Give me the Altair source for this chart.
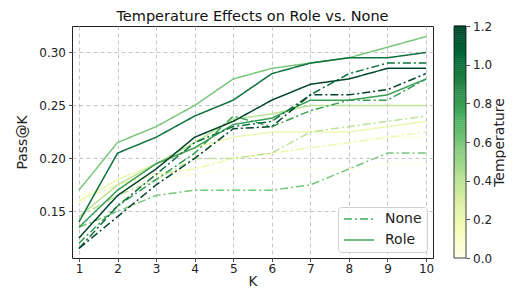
import altair as alt
import pandas as pd

K = list(range(1, 11))
temps = [0.0, 0.2, 0.4, 0.6, 0.8, 1.0, 1.2]

role_t00 = [0.165, 0.175, 0.185, 0.19, 0.20, 0.205, 0.21, 0.215, 0.22, 0.22]
role_t02 = [0.16, 0.18, 0.195, 0.21, 0.22, 0.225, 0.225, 0.225, 0.23, 0.235]
role_t04 = [0.145, 0.175, 0.195, 0.215, 0.237, 0.242, 0.25, 0.25, 0.25, 0.25]
role_t06 = [0.17, 0.215, 0.23, 0.25, 0.275, 0.285, 0.29, 0.295, 0.305, 0.315]
role_t08 = [0.135, 0.17, 0.195, 0.21, 0.232, 0.238, 0.255, 0.255, 0.26, 0.275]
role_t10 = [0.14, 0.205, 0.22, 0.24, 0.255, 0.28, 0.29, 0.295, 0.295, 0.30]
role_t12 = [0.125, 0.165, 0.19, 0.22, 0.235, 0.255, 0.27, 0.275, 0.285, 0.285]

none_t00 = [0.158, 0.17, 0.18, 0.185, 0.19, 0.19, 0.19, 0.19, 0.195, 0.195]
none_t02 = [0.16, 0.175, 0.185, 0.19, 0.20, 0.205, 0.21, 0.215, 0.22, 0.225]
none_t04 = [0.145, 0.165, 0.18, 0.20, 0.20, 0.205, 0.225, 0.23, 0.235, 0.24]
none_t06 = [0.135, 0.15, 0.165, 0.17, 0.17, 0.17, 0.175, 0.19, 0.205, 0.205]
none_t08 = [0.12, 0.155, 0.18, 0.205, 0.24, 0.23, 0.245, 0.255, 0.255, 0.275]
none_t10 = [0.115, 0.155, 0.185, 0.215, 0.23, 0.235, 0.26, 0.28, 0.29, 0.29]
none_t12 = [0.115, 0.145, 0.175, 0.20, 0.228, 0.23, 0.26, 0.26, 0.265, 0.28]

role_series = [role_t00, role_t02, role_t04, role_t06, role_t08, role_t10, role_t12]
none_series = [none_t00, none_t02, none_t04, none_t06, none_t08, none_t10, none_t12]

# YlGn colormap stops (matplotlib), spread evenly over 0 .. 1.2
ylgn = ["#ffffe5", "#f7fcb9", "#d9f0a3", "#addd8e", "#78c679",
        "#41ab5d", "#238443", "#006837", "#004529"]
ylgn_domain = [round(i * 1.2 / 8, 4) for i in range(9)]

rows = []
for i, t in enumerate(temps):
    for prompt, series in (("None", none_series[i]), ("Role", role_series[i])):
        for k, v in zip(K, series):
            rows.append({"K": k, "Pass": v, "Temperature": t, "Prompt": prompt,
                         "series": f"{prompt}_{t}", "ord": i * 2 + (prompt == "Role")})
df = pd.DataFrame(rows)

# colorbar bands (the gradient of the colour scale, 0 .. 1.2)
steps = 120
cb = pd.DataFrame({
    "Temperature": [(j + 0.5) * 1.2 / steps for j in range(steps)],
    "lo": [j * 1.2 / steps for j in range(steps)],
    "hi": [(j + 1) * 1.2 / steps + 0.002 for j in range(steps)],
})
cb_frame = pd.DataFrame({"lo": [0.0], "hi": [1.2]})

FONT = "DejaVu Sans"
color_scale = alt.Scale(domain=ylgn_domain, range=ylgn, interpolate="rgb")

lines = alt.Chart(df).mark_line(strokeWidth=1.5, clip=True).encode(
    x=alt.X("K:Q", scale=alt.Scale(domain=[0.82, 10.18], nice=False, zero=False),
            axis=alt.Axis(values=K, title="K", format="d")),
    y=alt.Y("Pass:Q", scale=alt.Scale(domain=[0.106, 0.325], nice=False, zero=False),
            axis=alt.Axis(values=[0.15, 0.20, 0.25, 0.30], format=".2f", title="Pass@K",
                          titlePadding=9, labelPadding=3)),
    color=alt.Color("Temperature:Q", scale=color_scale, legend=None),
    strokeDash=alt.StrokeDash("Prompt:N",
                              scale=alt.Scale(domain=["None", "Role"],
                                              range=[[8, 3, 2, 3], [1, 0]]),
                              legend=alt.Legend(orient="bottom-right", offset=6,
                                                title=None, symbolType="stroke",
                                                symbolStrokeColor="#41ab5d",
                                                symbolStrokeWidth=1.5, symbolSize=900,
                                                clipHeight=14,
                                                labelFontSize=14, labelFont=FONT,
                                                labelColor="#222", labelOffset=10,
                                                rowPadding=7, padding=5,
                                                fillColor="rgba(255,255,255,0.8)",
                                                strokeColor="#d0d0d0", cornerRadius=3)),
    detail="series:N",
    order="ord:Q",
)

CB_X0, CB_X1 = 382, 394

cb_axis = alt.Axis(orient="right", offset=CB_X1 - 361, values=temps, format=".1f",
                   grid=False, domain=False, title="Temperature", titleAngle=270,
                   titleX=33, titleY=116, titleAlign="center", titleBaseline="middle",
                   labelPadding=3)
cb_scale = alt.Scale(domain=[0, 1.2], nice=False, zero=False)

bands = alt.Chart(cb).mark_rect().encode(
    x=alt.value(CB_X0), x2=alt.value(CB_X1),
    y=alt.Y("lo:Q", scale=cb_scale, axis=cb_axis),
    y2="hi:Q",
    color=alt.Color("Temperature:Q", scale=color_scale, legend=None),
)

frame = alt.Chart(cb_frame).mark_rect(fillOpacity=0, stroke="#111", strokeWidth=0.8).encode(
    x=alt.value(CB_X0), x2=alt.value(CB_X1),
    y=alt.Y("lo:Q", scale=cb_scale, axis=cb_axis), y2="hi:Q",
)

colorbar = alt.layer(bands, frame)

chart = alt.layer(lines, colorbar).resolve_scale(y="independent").properties(
    width=361, height=232,
    title=alt.TitleParams("Temperature Effects on Role vs. None", fontSize=14.5,
                          font=FONT, fontWeight="normal", color="#111", offset=2,
                          dy=6, frame="group"),
    autosize=alt.AutoSizeParams(type="none"),
    padding={"left": 64, "top": 18, "right": 73, "bottom": 31},
).configure_view(
    stroke="#222", strokeWidth=1
).configure_axis(
    domain=False, grid=True, gridDash=[4, 3], gridColor="#b8b8b8", gridWidth=0.8,
    ticks=True, tickColor="#222", tickSize=3.5, tickWidth=0.8,
    labelFont=FONT, labelFontSize=12, labelColor="#222",
    titleFont=FONT, titleFontSize=14, titleFontWeight="normal", titleColor="#222",
).configure_axisX(titlePadding=0, labelPadding=2, titleFontSize=13.5)

chart.save("out.html", embed_options={"renderer": "svg", "actions": False})
